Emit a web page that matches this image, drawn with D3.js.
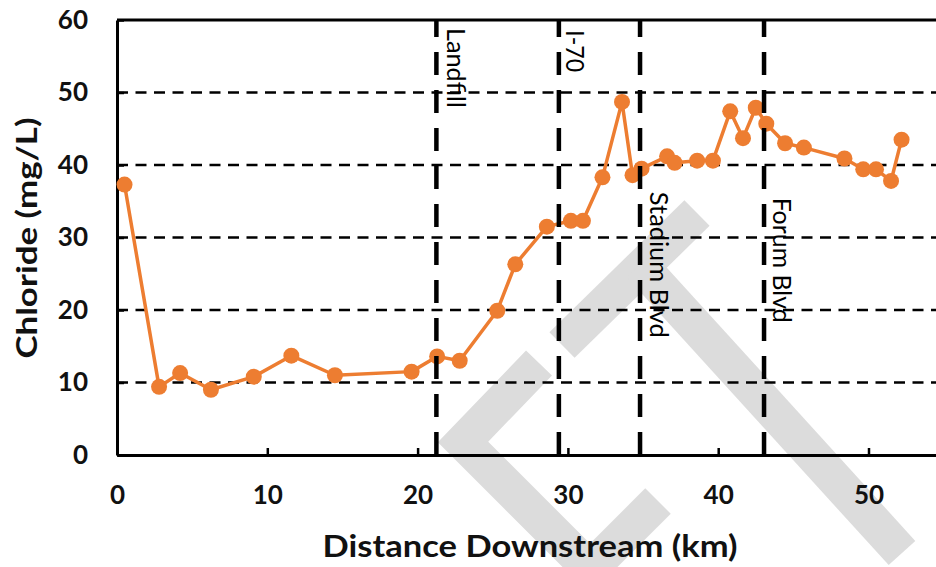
<!DOCTYPE html>
<html>
<head>
<meta charset="utf-8">
<script src="https://cdn.jsdelivr.net/npm/d3@7"></script>
<style>
  body { margin: 0; background: #fff; }
  svg { display: block; font-family: Lato, "Open Sans", sans-serif; }
</style>
</head>
<body>
<figure id="chart" style="margin:0"></figure>
<script>
// distance downstream (km) and chloride (mg/L) for each sampling site
const distance = [0.5, 2.8, 4.2, 6.25, 9.1, 11.6, 14.5, 19.6, 21.3, 22.8, 25.3, 26.5, 28.6, 30.2, 31.0,
  32.3, 33.6, 34.3, 34.9, 36.6, 37.1, 38.6, 39.65, 40.8, 41.65, 42.5, 43.2, 44.45, 45.7, 48.4, 49.65,
  50.5, 51.5, 52.2];
const chloride = [37.3, 9.4, 11.3, 9.0, 10.8, 13.7, 11.0, 11.5, 13.6, 13.0, 19.9, 26.3, 31.5, 32.3, 32.3,
  38.3, 48.7, 38.6, 39.5, 41.2, 40.3, 40.6, 40.6, 47.4, 43.7, 47.9, 45.7, 43.0, 42.4, 40.9, 39.4,
  39.4, 37.8, 43.5];

// landmarks along the stream
const landmarkNames = ["Landfill", "I-70", "Stadium Blvd", "Forum Blvd"];
const landmarkKm = [21.25, 29.4, 34.8, 43.05];

const xTicks = [0, 10, 20, 30, 40, 50];
const yTicks = [0, 10, 20, 30, 40, 50, 60];

const chartWidth = 936;
const chartHeight = 567;
const plotLeft = 117, plotTop = 20, plotBottom = 455;
const orange = "#ED7D31";

const x = d3.scaleLinear().domain([0, 55]).range([plotLeft, plotLeft + 55 * 15.03]);
const y = d3.scaleLinear().domain([0, 60]).range([plotBottom, plotTop]);

const svg = d3.select("figure#chart")
  .append("svg")
  .attr("width", chartWidth)
  .attr("height", chartHeight);

svg.append("rect").attr("width", chartWidth).attr("height", chartHeight).attr("fill", "#fff");

// grey watermark strokes behind the chart
const watermark = [
  [[562, 345], [697, 213]],
  [[640, 265], [902, 553]],
  [[539, 363], [463, 442], [610, 589]],
  [[658, 501], [555, 604]]
];
svg.append("g")
  .selectAll("path")
  .data(watermark)
  .enter()
  .append("path")
  .attr("d", d3.line())
  .attr("fill", "none")
  .attr("stroke", "#dcdcdc")
  .attr("stroke-width", 36)
  .attr("stroke-linejoin", "miter")
  .attr("stroke-linecap", "butt");

// horizontal dashed gridlines
svg.append("g")
  .selectAll("line")
  .data(yTicks.filter(d => d > 0 && d < 60))
  .enter()
  .append("line")
  .attr("x1", x(0))
  .attr("x2", x(55))
  .attr("y1", d => y(d))
  .attr("y2", d => y(d))
  .attr("stroke", "#000")
  .attr("stroke-width", 2.5)
  .attr("stroke-dasharray", "11,7.5");

// plot border top and right
svg.append("path")
  .attr("d", `M${x(0)},${y(60)}H${x(55)}V${y(0)}`)
  .attr("fill", "none")
  .attr("stroke", "#000")
  .attr("stroke-width", 3);

// axes
const xAxis = svg.append("g")
  .attr("transform", `translate(0,${plotBottom})`)
  .call(d3.axisBottom(x).tickValues(xTicks).tickSize(-7).tickSizeOuter(0).tickPadding(31));
const yAxis = svg.append("g")
  .attr("transform", `translate(${plotLeft},0)`)
  .call(d3.axisLeft(y).tickValues(yTicks).tickSize(-7).tickSizeOuter(0).tickPadding(29));

[xAxis, yAxis].forEach(g => {
  g.select(".domain").attr("stroke", "#000").attr("stroke-width", 3);
  g.selectAll(".tick line").attr("stroke", "#000").attr("stroke-width", 2.5);
  g.selectAll(".tick text")
    .attr("fill", "#111")
    .style("font-family", "Lato, sans-serif")
    .style("font-weight", "bold")
    .style("font-size", "26px");
});

// series
const points = distance.map((d, i) => [d, chloride[i]]);
svg.append("path")
  .datum(points)
  .attr("d", d3.line().x(d => x(d[0])).y(d => y(d[1])))
  .attr("fill", "none")
  .attr("stroke", orange)
  .attr("stroke-width", 3.5)
  .attr("stroke-linejoin", "round");

svg.append("g")
  .selectAll("circle")
  .data(points)
  .enter()
  .append("circle")
  .attr("cx", d => x(d[0]))
  .attr("cy", d => y(d[1]))
  .attr("r", 8)
  .attr("fill", orange);

// landmark lines, drawn from the bottom up like the original
svg.append("g")
  .selectAll("line")
  .data(landmarkKm)
  .enter()
  .append("line")
  .attr("x1", d => x(d))
  .attr("x2", d => x(d))
  .attr("y1", y(0))
  .attr("y2", y(60))
  .attr("stroke", "#000")
  .attr("stroke-width", 4.5)
  .attr("stroke-dasharray", "23,15");

// landmark labels: offset from line, where the text starts, drawn length
const labelLayout = [
  { dx: 11, start: 58.9, len: 80 },
  { dx: 7, start: 58.6, len: 42 },
  { dx: 10, start: 36.3, len: 146 },
  { dx: 9, start: 35.5, len: 125 }
];
svg.append("g")
  .selectAll("text")
  .data(landmarkNames)
  .enter()
  .append("text")
  .attr("transform", (d, i) => `translate(${x(landmarkKm[i]) + labelLayout[i].dx},${y(labelLayout[i].start)}) rotate(90)`)
  .attr("textLength", (d, i) => labelLayout[i].len)
  .attr("lengthAdjust", "spacingAndGlyphs")
  .style("font-size", "25px")
  .attr("fill", "#000")
  .text(d => d);

// axis titles
svg.append("text")
  .attr("x", 530)
  .attr("y", 557)
  .attr("text-anchor", "middle")
  .attr("textLength", 415)
  .attr("lengthAdjust", "spacingAndGlyphs")
  .style("font-size", "30px")
  .style("font-weight", "bold")
  .attr("fill", "#111")
  .text("Distance Downstream (km)");

svg.append("text")
  .attr("transform", "translate(37,238) rotate(-90)")
  .attr("text-anchor", "middle")
  .attr("textLength", 241)
  .attr("lengthAdjust", "spacingAndGlyphs")
  .style("font-size", "28px")
  .style("font-weight", "bold")
  .attr("fill", "#111")
  .text("Chloride (mg/L)");
</script>
</body>
</html>
